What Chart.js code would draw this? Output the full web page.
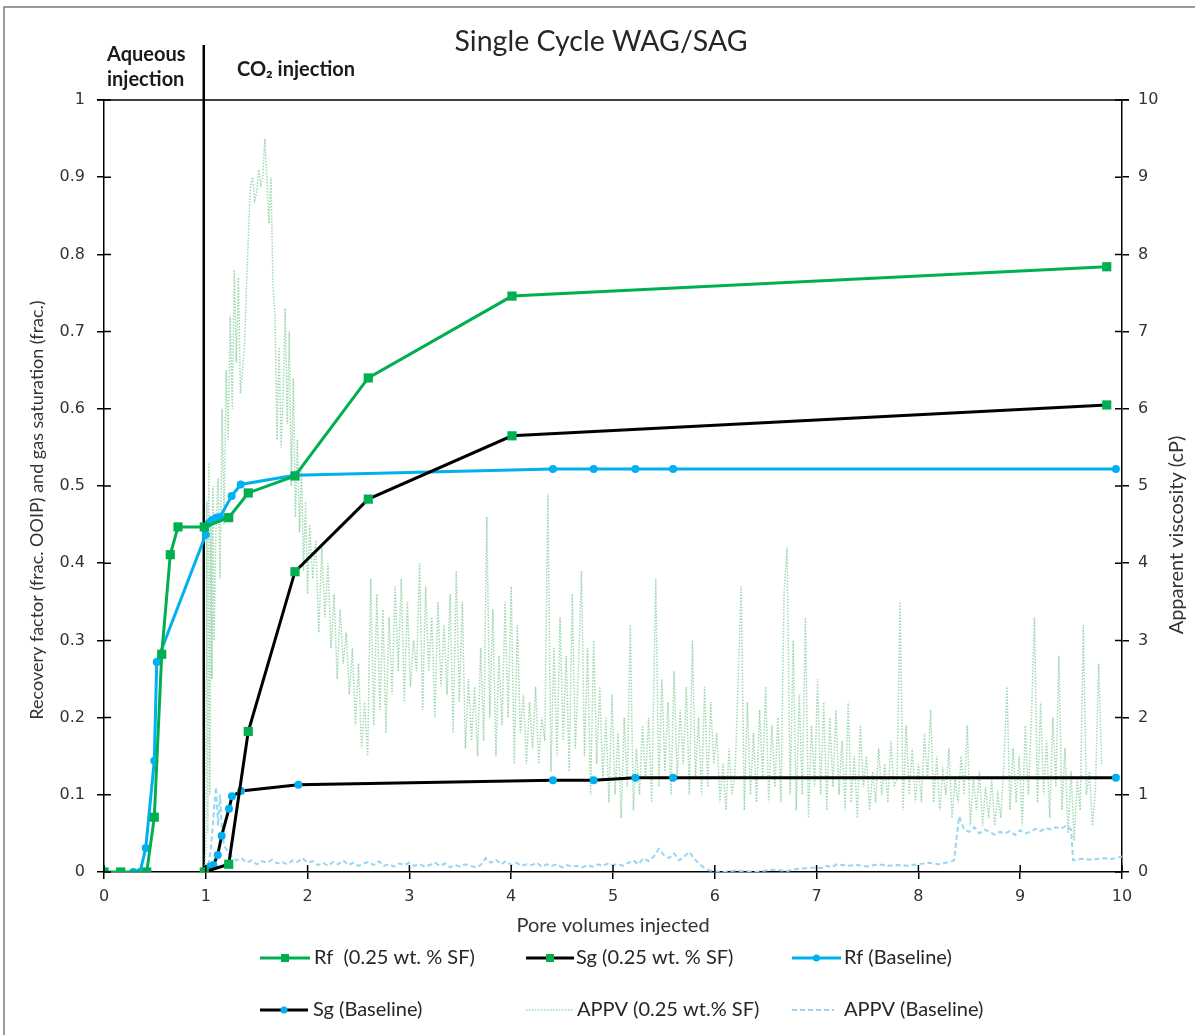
<!DOCTYPE html>
<html><head><meta charset="utf-8">
<script src="https://cdn.jsdelivr.net/npm/chart.js@4.4.1/dist/chart.umd.min.js"></script>
<style>html,body{margin:0;padding:0;background:#fff;overflow:hidden}</style>
</head><body>
<canvas id="c" width="1195" height="1035"></canvas>
<script>
// ---------- DATA ----------
const chartTitle = 'Single Cycle WAG/SAG';
const xTitle = 'Pore volumes injected';
const yTitle = 'Recovery factor (frac. OOIP) and gas saturation (frac.)';
const y2Title = 'Apparent viscosity (cP)';
const phaseLabels = ['Aqueous', 'injection', 'CO\u2082 injection'];
const dividerPV = 0.98;
const seriesNames = ['Rf  (0.25 wt. % SF)', 'Sg (0.25 wt. % SF)', 'Rf (Baseline)', 'Sg (Baseline)', 'APPV (0.25 wt.% SF)', 'APPV (Baseline)'];

const rfSF = [[0,0],[0.164,0],[0.42,0],[0.494,0.071],[0.567,0.282],[0.651,0.411],[0.727,0.447],[0.985,0.447],[1.225,0.459],[1.417,0.491],[1.876,0.513],[2.596,0.640],[4.008,0.746],[9.85,0.784]];
const sgSF = [[0.985,0],[1.225,0.010],[1.417,0.182],[1.876,0.389],[2.596,0.483],[4.008,0.565],[9.85,0.605]];
const rfBL = [[0.288,0],[0.354,0],[0.41,0.031],[0.494,0.144],[0.518,0.272],[1.0,0.437],[1.03,0.452],[1.06,0.456],[1.10,0.459],[1.14,0.460],[1.254,0.487],[1.343,0.502],[1.876,0.514],[4.41,0.522],[4.81,0.522],[5.22,0.522],[5.59,0.522],[9.94,0.522]];
const sgBL = [[0.99,0],[1.041,0.007],[1.074,0.009],[1.117,0.022],[1.156,0.047],[1.228,0.082],[1.257,0.098],[1.346,0.105],[1.909,0.113],[4.41,0.119],[4.81,0.119],[5.22,0.122],[5.59,0.122],[9.94,0.122]];

const appvSF = [[0.99,0],[1.00,0.3],[1.01,4.8],[1.02,0.5],[1.03,5.3],[1.04,1.0],[1.05,4.6],[1.06,2.5],[1.07,5.0],[1.08,3.0],[1.10,4.4],[1.12,5.1],[1.14,3.8],[1.16,6.0],[1.18,4.5],[1.20,6.5],[1.22,5.6],[1.24,7.2],[1.26,6.0],[1.28,7.8],[1.30,6.6],[1.32,7.7],[1.34,6.2],[1.36,6.5],[1.38,6.8],[1.40,7.6],[1.42,8.3],[1.44,8.9],[1.46,9.0],[1.48,8.7],[1.50,8.8],[1.52,9.1],[1.54,8.9],[1.56,9.0],[1.58,9.5],[1.60,9.0],[1.62,8.4],[1.64,9.0],[1.66,7.6],[1.68,7.2],[1.70,5.6],[1.72,6.8],[1.74,5.5],[1.76,6.2],[1.78,7.3],[1.80,5.8],[1.82,7.0],[1.84,5.0],[1.86,6.4],[1.88,4.6],[1.90,5.6],[1.92,4.4],[1.94,5.2],[1.96,3.9],[1.98,4.8],[2.00,3.6],[2.02,4.5],
[2.05,3.8],[2.08,4.3],[2.11,3.1],[2.14,4.2],[2.17,3.3],[2.20,4.0],[2.23,2.9],[2.26,3.6],[2.29,2.5],[2.32,3.4],[2.35,2.7],[2.38,3.1],[2.41,2.3],[2.44,2.9],[2.47,1.9],[2.50,2.7],[2.53,1.6],[2.56,2.2],[2.59,1.5],[2.62,3.8],[2.65,1.9],[2.68,3.6],[2.71,2.1],[2.74,3.4],[2.77,1.8],[2.80,3.3],[2.83,2.3],[2.86,3.7],[2.89,2.6],[2.92,3.8],[2.95,2.2],[2.98,3.5],
[3.01,2.4],[3.04,3.0],[3.07,2.6],[3.10,4.0],[3.13,2.1],[3.16,3.7],[3.19,2.6],[3.22,3.3],[3.25,2.0],[3.28,3.5],[3.31,2.4],[3.34,3.2],[3.37,2.3],[3.40,3.6],[3.43,1.8],[3.46,3.9],[3.49,2.2],[3.52,3.5],[3.55,1.6],[3.58,2.5],[3.61,1.7],[3.64,2.4],[3.67,1.5],[3.70,2.9],[3.73,1.7],[3.76,4.6],[3.79,2.0],[3.82,3.4],[3.85,1.5],[3.88,2.8],[3.91,1.9],[3.94,3.5],[3.97,2.0],
[4.00,3.7],[4.03,1.4],[4.06,3.2],[4.09,1.8],[4.12,2.3],[4.15,1.4],[4.18,2.2],[4.21,1.6],[4.24,2.4],[4.27,1.4],[4.30,2.0],[4.33,1.7],[4.36,4.9],[4.39,1.3],[4.42,2.9],[4.45,1.5],[4.48,3.3],[4.51,1.7],[4.54,2.8],[4.57,1.3],[4.60,3.6],[4.63,1.6],[4.66,2.6],[4.69,3.9],[4.72,1.5],[4.75,2.9],[4.78,1.0],[4.81,3.0],[4.84,1.4],[4.87,2.4],[4.90,1.2],[4.93,2.0],[4.96,0.9],[4.99,2.3],
[5.02,1.0],[5.05,1.8],[5.08,0.7],[5.11,2.0],[5.14,1.1],[5.17,3.2],[5.20,0.8],[5.23,1.6],[5.26,1.0],[5.29,1.9],[5.32,1.2],[5.35,2.0],[5.38,0.9],[5.42,3.8],[5.45,1.1],[5.48,2.5],[5.51,1.3],[5.54,2.2],[5.57,1.0],[5.60,2.6],[5.63,1.2],[5.66,2.1],[5.69,1.4],[5.72,2.4],[5.75,1.0],[5.78,3.0],[5.81,1.2],[5.84,2.0],[5.87,1.0],[5.90,2.4],[5.93,1.1],[5.96,2.2],[5.99,1.4],
[6.02,1.8],[6.05,0.9],[6.08,1.4],[6.11,0.8],[6.14,1.6],[6.17,1.0],[6.20,1.3],[6.23,2.5],[6.26,3.7],[6.29,0.8],[6.32,2.2],[6.35,1.0],[6.38,1.8],[6.41,0.9],[6.44,2.1],[6.47,1.2],[6.50,2.4],[6.53,0.9],[6.56,1.9],[6.59,1.1],[6.62,2.0],[6.65,0.9],[6.68,3.6],[6.71,4.2],[6.74,1.0],[6.77,3.0],[6.80,0.8],[6.83,2.3],[6.86,1.0],[6.89,3.3],[6.92,0.7],[6.95,1.9],[6.98,1.1],
[7.01,2.5],[7.04,1.0],[7.07,2.2],[7.10,0.8],[7.13,2.0],[7.16,1.1],[7.19,2.1],[7.22,1.0],[7.25,1.7],[7.28,0.8],[7.31,2.2],[7.34,0.9],[7.37,1.5],[7.40,0.7],[7.43,1.9],[7.46,1.1],[7.49,1.5],[7.52,0.8],[7.55,1.3],[7.58,0.9],[7.61,1.6],[7.64,1.0],[7.67,1.4],[7.70,0.9],[7.73,1.7],[7.76,1.1],[7.79,1.2],[7.82,3.5],[7.85,0.8],[7.88,1.9],[7.91,1.0],[7.94,1.6],[7.97,0.9],
[8.00,1.4],[8.03,0.9],[8.06,1.8],[8.09,1.2],[8.12,2.1],[8.15,0.9],[8.18,1.5],[8.21,0.8],[8.24,1.3],[8.27,1.0],[8.30,1.6],[8.33,0.7],[8.36,1.2],[8.39,0.9],[8.42,1.5],[8.45,1.0],[8.48,1.9],[8.51,0.6],[8.54,1.2],[8.57,0.8],[8.60,1.3],[8.63,0.6],[8.66,1.1],[8.69,0.7],[8.72,1.2],[8.75,0.6],[8.78,1.0],[8.81,0.7],[8.84,1.4],[8.87,2.4],[8.90,0.8],[8.93,1.6],[8.96,0.9],[8.99,1.5],
[9.02,0.6],[9.05,1.9],[9.08,1.0],[9.11,2.0],[9.14,3.3],[9.17,0.9],[9.20,2.2],[9.23,1.0],[9.26,1.7],[9.29,0.7],[9.32,2.0],[9.35,1.1],[9.38,2.8],[9.41,0.8],[9.44,1.6],[9.47,0.5],[9.50,1.3],[9.53,0.4],[9.56,1.2],[9.59,0.8],[9.62,3.2],[9.65,1.0],[9.68,1.3],[9.71,0.6],[9.74,1.1],[9.77,2.7],[9.80,1.4]];

const appvBL = [[0.99,0],[1.02,0.05],[1.05,0.3],[1.08,0.8],[1.10,1.1],[1.12,0.6],[1.14,1.0],[1.16,0.5],[1.18,0.35],[1.22,0.25],[1.26,0.2],[1.30,0.15],[1.35,0.18],[1.40,0.12],[1.45,0.15],[1.50,0.1],[1.55,0.14],[1.60,0.12],[1.65,0.16],[1.70,0.11],[1.75,0.13],[1.80,0.10],[1.85,0.15],[1.90,0.13],[1.95,0.18],[2.00,0.12],[2.05,0.14],[2.10,0.09],[2.15,0.12],[2.20,0.08],[2.25,0.13],[2.30,0.10],[2.35,0.15],[2.40,0.09],[2.45,0.12],[2.50,0.08],[2.55,0.11],[2.60,0.13],[2.65,0.09],[2.70,0.14],[2.75,0.08],[2.80,0.10],[2.85,0.07],[2.90,0.11],[2.95,0.09],[3.00,0.12],[3.05,0.08],[3.10,0.10],[3.15,0.07],[3.20,0.09],[3.25,0.12],[3.30,0.08],[3.35,0.11],[3.40,0.06],[3.45,0.09],[3.50,0.07],[3.55,0.10],[3.60,0.08],[3.65,0.06],[3.70,0.09],[3.75,0.18],[3.80,0.12],[3.85,0.16],[3.90,0.10],[3.95,0.14],[4.00,0.09],[4.05,0.12],[4.10,0.08],[4.15,0.10],[4.20,0.09],[4.25,0.12],[4.30,0.07],[4.35,0.10],[4.40,0.08],[4.45,0.10],[4.50,0.06],[4.55,0.09],[4.60,0.07],[4.65,0.08],[4.70,0.06],[4.75,0.09],[4.80,0.07],[4.85,0.10],[4.90,0.08],[4.95,0.11],[5.00,0.09],[5.05,0.10],[5.10,0.08],[5.15,0.12],[5.20,0.15],[5.25,0.10],[5.30,0.18],[5.35,0.14],[5.40,0.20],[5.45,0.30],[5.50,0.22],[5.55,0.18],[5.60,0.24],[5.65,0.15],[5.70,0.20],[5.75,0.26],[5.80,0.17],[5.85,0.10],[5.90,0.05],[5.95,0.02],[6.00,0.01],[6.10,0.00],[6.20,0.02],[6.30,0.01],[6.40,0.00],[6.50,0.02],[6.60,0.03],[6.70,0.01],[6.80,0.04],[6.90,0.05],[7.00,0.06],[7.05,0.05],[7.10,0.08],[7.15,0.06],[7.20,0.10],[7.30,0.08],[7.40,0.09],[7.50,0.07],[7.60,0.10],[7.70,0.08],[7.80,0.09],[7.90,0.08],[8.00,0.10],[8.10,0.12],[8.20,0.10],[8.30,0.13],[8.35,0.15],[8.40,0.72],[8.45,0.55],[8.50,0.52],[8.55,0.58],[8.60,0.50],[8.65,0.55],[8.70,0.52],[8.75,0.48],[8.80,0.52],[8.85,0.50],[8.90,0.53],[8.95,0.48],[9.00,0.54],[9.05,0.50],[9.10,0.52],[9.15,0.56],[9.20,0.53],[9.25,0.57],[9.30,0.55],[9.35,0.58],[9.40,0.56],[9.45,0.60],[9.50,0.55],[9.52,0.15],[9.60,0.17],[9.70,0.16],[9.80,0.18],[9.90,0.17],[10.00,0.20]];

// ---------- STYLE ----------
const GREEN = '#00B050', BLUE = '#00B0F0', APPV_G = '#9ed9b1', APPV_B = '#9ad6f2';
const TICKFONT = {family: 'DejaVu Sans', size: 16};
const TXT = 'Lato, "Open Sans", sans-serif';
const toXY = arr => arr.map(p => ({x: p[0], y: p[1]}));

const deco = {
  id: 'deco',
  beforeDatasetsDraw(c) {
    const ctx = c.ctx, a = c.chartArea, xs = c.scales.x;
    const vx = xs.getPixelForValue(dividerPV);
    ctx.save();
    ctx.strokeStyle = '#000'; ctx.lineWidth = 2.5;
    ctx.beginPath(); ctx.moveTo(vx, 45); ctx.lineTo(vx, a.bottom); ctx.stroke();
    ctx.restore();
  },
  afterDraw(c) {
    const ctx = c.ctx, a = c.chartArea;
    ctx.save();
    // frame
    ctx.strokeStyle = '#7a7a7a'; ctx.lineWidth = 1.5;
    ctx.beginPath(); ctx.moveTo(4, 1035); ctx.lineTo(4, 7); ctx.lineTo(1195, 7); ctx.stroke();
    // top border line
    ctx.strokeStyle = '#000'; ctx.lineWidth = 1.5;
    ctx.beginPath(); ctx.moveTo(a.left - 7, a.top); ctx.lineTo(a.right + 7, a.top); ctx.stroke();
    // inner tick halves
    ctx.beginPath();
    c.scales.x.ticks.forEach(t => { const p = c.scales.x.getPixelForValue(t.value); ctx.moveTo(p, a.bottom); ctx.lineTo(p, a.bottom - 7); });
    c.scales.y.ticks.forEach(t => { const p = c.scales.y.getPixelForValue(t.value); ctx.moveTo(a.left, p); ctx.lineTo(a.left + 7, p); });
    c.scales.y2.ticks.forEach(t => { const p = c.scales.y2.getPixelForValue(t.value); ctx.moveTo(a.right, p); ctx.lineTo(a.right - 7, p); });
    ctx.stroke();
    // titles
    ctx.fillStyle = '#262626';
    ctx.textAlign = 'center'; ctx.textBaseline = 'middle';
    ctx.font = '28.5px ' + TXT;
    ctx.fillText(chartTitle, 601, 42);
    ctx.font = '20px ' + TXT; ctx.fillStyle = '#333';
    ctx.fillText(xTitle, 613, 926);
    ctx.save(); ctx.translate(1177, 535); ctx.rotate(-Math.PI / 2); ctx.fillText(y2Title, 0, 0); ctx.restore();
    ctx.font = '18px ' + TXT;
    ctx.save(); ctx.translate(37, 510); ctx.rotate(-Math.PI / 2); ctx.fillText(yTitle, 0, 0); ctx.restore();
    // phase labels
    ctx.fillStyle = '#1a1a1a'; ctx.font = 'bold 20px ' + TXT; ctx.textAlign = 'left';
    ctx.fillText(phaseLabels[0], 107, 55);
    ctx.fillText(phaseLabels[1], 107, 80);
    ctx.fillText(phaseLabels[2], 237, 70);
    // legend
    const items = [
      {x1: 260, x2: 310, tx: 314, y: 958, lc: GREEN, lw: 3, mk: 'rect', mc: GREEN},
      {x1: 526, x2: 574, tx: 576, y: 958, lc: '#000', lw: 3, mk: 'rect', mc: GREEN},
      {x1: 792, x2: 841, tx: 844, y: 958, lc: BLUE, lw: 3, mk: 'circle', mc: BLUE},
      {x1: 260, x2: 308, tx: 313, y: 1010, lc: '#000', lw: 3, mk: 'circle', mc: BLUE},
      {x1: 526, x2: 574, tx: 577, y: 1010, lc: APPV_G, lw: 1.5, dash: [1.5, 1.5]},
      {x1: 792, x2: 834, tx: 844, y: 1010, lc: APPV_B, lw: 2, dash: [5, 3]}
    ];
    ctx.font = '20px ' + TXT; ctx.textBaseline = 'middle';
    items.forEach((it, i) => {
      ctx.strokeStyle = it.lc; ctx.lineWidth = it.lw; ctx.setLineDash(it.dash || []);
      ctx.beginPath(); ctx.moveTo(it.x1, it.y); ctx.lineTo(it.x2, it.y); ctx.stroke();
      ctx.setLineDash([]);
      const mx = (it.x1 + it.x2) / 2;
      if (it.mk === 'rect') { ctx.fillStyle = it.mc; ctx.fillRect(mx - 4, it.y - 4, 8, 8); }
      if (it.mk === 'circle') { ctx.fillStyle = it.mc; ctx.beginPath(); ctx.arc(mx, it.y, 3.5, 0, Math.PI * 2); ctx.fill(); }
      ctx.fillStyle = '#262626';
      ctx.fillText(c.data.datasets[i].label, it.tx, it.y);
    });
    ctx.restore();
  }
};

const axisCommon = {
  grid: {drawOnChartArea: false, drawTicks: true, tickLength: 7, color: '#000', lineWidth: 1.5},
  border: {display: true, color: '#000', width: 1.5}
};

new Chart(document.getElementById('c'), {
  type: 'line',
  data: {datasets: [
    {label: seriesNames[0], data: toXY(rfSF), yAxisID: 'y', borderColor: GREEN, borderWidth: 3, pointStyle: 'rect', pointRadius: 6.5, pointBackgroundColor: GREEN, pointBorderWidth: 0, order: 1},
    {label: seriesNames[1], data: toXY(sgSF), yAxisID: 'y', borderColor: '#000', borderWidth: 3, pointStyle: 'rect', pointRadius: 6.5, pointBackgroundColor: GREEN, pointBorderWidth: 0, order: 2},
    {label: seriesNames[2], data: toXY(rfBL), yAxisID: 'y', borderColor: BLUE, borderWidth: 3, pointStyle: 'circle', pointRadius: 4, pointBackgroundColor: BLUE, pointBorderWidth: 0, order: 3},
    {label: seriesNames[3], data: toXY(sgBL), yAxisID: 'y', borderColor: '#000', borderWidth: 3, pointStyle: 'circle', pointRadius: 4, pointBackgroundColor: BLUE, pointBorderWidth: 0, order: 4},
    {label: seriesNames[4], data: toXY(appvSF), yAxisID: 'y2', borderColor: APPV_G, borderWidth: 1.5, borderDash: [1.5, 1.5], pointRadius: 0, order: 6},
    {label: seriesNames[5], data: toXY(appvBL), yAxisID: 'y2', borderColor: APPV_B, borderWidth: 2, borderDash: [5, 3], pointRadius: 0, order: 5}
  ]},
  options: {
    responsive: false, animation: false, devicePixelRatio: 1,
    elements: {line: {tension: 0, fill: false}},
    layout: {padding: {top: 100, left: 0, right: 0, bottom: 0}},
    plugins: {legend: {display: false}, tooltip: {enabled: false}, title: {display: false}},
    scales: {
      x: Object.assign({type: 'linear', min: 0, max: 10,
        ticks: {stepSize: 1, font: TICKFONT, color: '#333', padding: 8, maxRotation: 0},
        afterFit(s) { s.height = 163; }}, axisCommon),
      y: Object.assign({type: 'linear', position: 'left', min: 0, max: 1,
        ticks: {stepSize: 0.1, font: TICKFONT, color: '#333', padding: 12, callback: v => String(Number(v.toFixed(1)))},
        afterFit(s) { s.width = 104; }}, axisCommon),
      y2: Object.assign({type: 'linear', position: 'right', min: 0, max: 10,
        ticks: {stepSize: 1, font: TICKFONT, color: '#333', padding: 9},
        afterFit(s) { s.width = 73; }}, axisCommon)
    }
  },
  plugins: [deco]
});
</script>
</body></html>
